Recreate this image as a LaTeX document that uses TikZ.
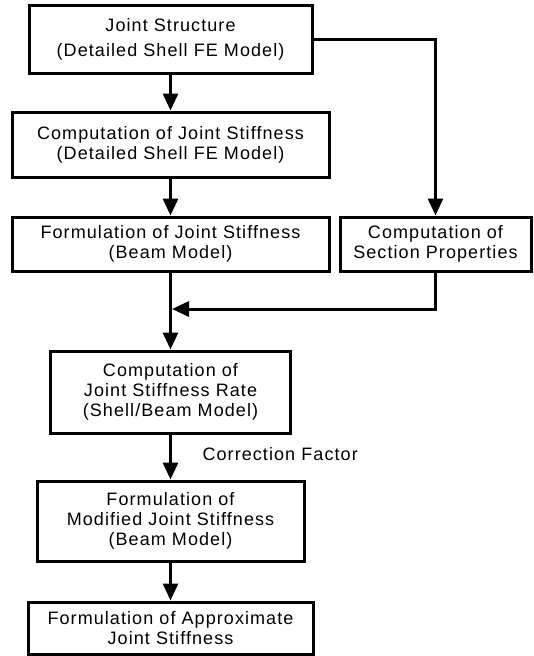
\documentclass[tikz,border=0pt]{standalone}
\usepackage{fontspec}
\setmainfont{Liberation Sans}[LetterSpace=6]
\usepackage{tikz}
\usetikzlibrary{arrows.meta}

\begin{document}
\begin{tikzpicture}[x=1pt,y=-1pt]%
  \tikzstyle{boxn}=[rectangle,draw,line width=3pt,inner sep=0,align=center,font=\fontsize{18}{20}\selectfont]
  \tikzstyle{arr}=[line width=3pt,-{Triangle[width=15pt,length=17pt]}]
  \useasboundingbox (0,0) rectangle (534,656);
  \node(1)[boxn,minimum width=283pt,minimum height=68pt] at (170.5,39) {Joint Structure\\[5pt](Detailed Shell FE Model)};
  \node(2)[boxn,minimum width=317pt,minimum height=65pt] at (170.5,144.5) {Computation of Joint Stiffness\\(Detailed Shell FE Model)};
  \node(3)[boxn,minimum width=317pt,minimum height=54pt] at (170.5,244) {Formulation of Joint Stiffness\\(Beam Model)};
  \node(4)[boxn,minimum width=191pt,minimum height=54pt] at (435.5,244) {Computation of\\Section Properties};
  \node(5)[boxn,minimum width=240pt,minimum height=82pt] at (170.5,392) {Computation of\\Joint Stiffness Rate\\(Shell/Beam Model)};
  \node(6)[boxn,minimum width=267pt,minimum height=80pt] at (170.5,521) {Formulation of\\Modified Joint Stiffness\\(Beam Model)};
  \node(7)[boxn,minimum width=285pt,minimum height=52pt] at (170.5,628) {Formulation of Approximate\\Joint Stiffness};
  \node(cf)[anchor=west,font=\fontsize{18}{20}\selectfont] at (199,454) {Correction Factor};
  \coordinate(m) at (172,309);
  \draw[arr] (1) -- (2);
  \draw[arr] (2) -- (3);
  \draw[arr] (1.east) -| (4);
  \draw[arr] (3) -- (5);
  \draw[arr] (4) |- (m);
  \draw[arr] (5) -- (6);
  \draw[arr] (6) -- (7);
\end{tikzpicture}
\end{document}
